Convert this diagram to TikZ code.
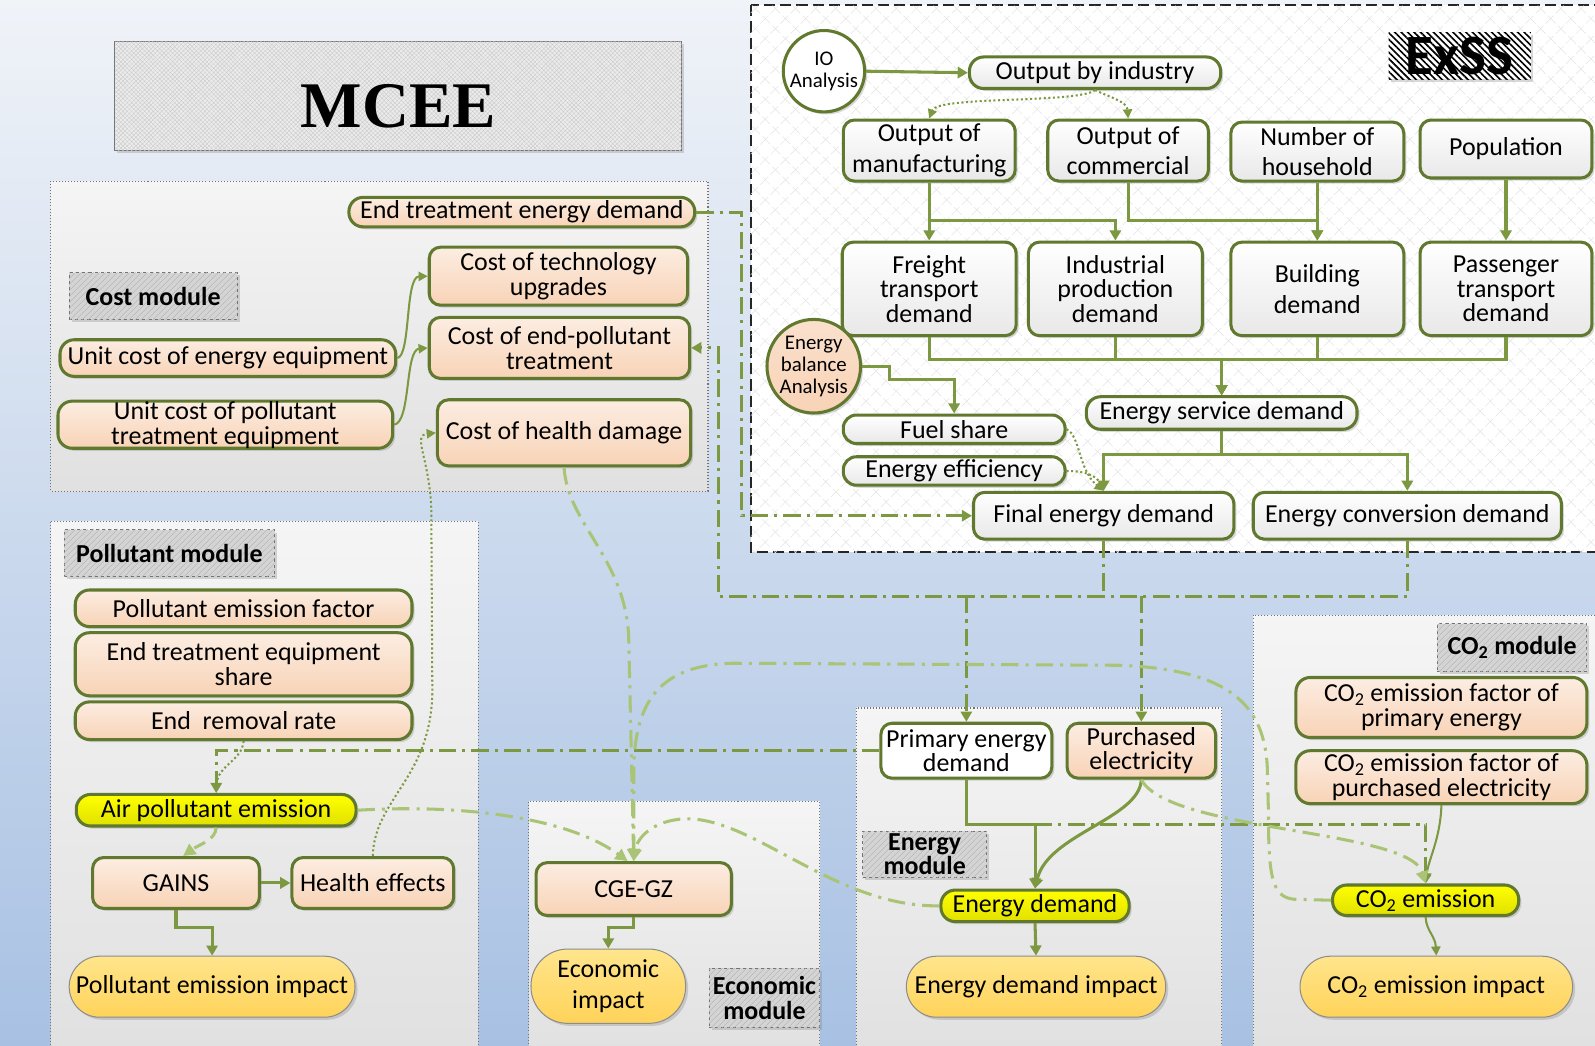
\documentclass[tikz,border=0pt]{standalone}
\usepackage{fontspec}
\setmainfont{Carlito}
\newfontfamily\titlefont{Liberation Serif}
\usetikzlibrary{arrows.meta,shadows,patterns.meta}
\definecolor{Olive}{RGB}{96,121,46}
\definecolor{Link}{RGB}{124,152,64}
\definecolor{LinkLight}{RGB}{170,196,118}
\definecolor{Peach10}{RGB}{252,237,226}
\definecolor{Peach30}{RGB}{248,211,182}
\definecolor{Gold10}{RGB}{255,229,140}
\definecolor{Gold30}{RGB}{255,211,90}
\definecolor{Sky10}{RGB}{240,243,248}
\definecolor{Sky40}{RGB}{168,193,227}
\newcommand\boxfont{\fontsize{25.5}{24}\selectfont}

\begin{document}
\begin{tikzpicture}[
    x=1pt, y=-1pt,
    sz/.style 2 args={minimum width=#1pt, minimum height=#2pt},
    shadowed/.style={drop shadow={shadow xshift=2.5pt, shadow yshift=-2.5pt, opacity=0.3}},
    node base/.style={draw=Olive, line width=3pt, rounded corners=11pt, align=center, inner sep=2pt, shadowed, font=\boxfont},
    peach box/.style={node base, top color=Peach10, bottom color=Peach30},
    grey box/.style={node base, top color=white, bottom color=black!9},
    yellow box/.style={node base, rounded corners=14pt, top color=yellow, bottom color=yellow!88!black},
    impact box/.style={draw=black!45, line width=1pt, align=center, inner sep=2pt, shadowed, font=\boxfont, top color=Gold10, bottom color=Gold30},
    analysis/.style={circle, draw=Olive, line width=3pt, align=center, inner sep=0pt, shadowed, font=\fontsize{20.5}{21.5}\selectfont},
    module tag/.style={draw=black!55, dashed, line width=1pt, fill=black!17, align=center, inner sep=1pt, shadowed,
        postaction={pattern={Lines[angle=45, distance=4pt, line width=0.4pt]}, pattern color=black!30},
        font=\bfseries\boxfont},
    module panel/.style={draw=black!55, dotted, line width=1pt, top color=black!4, bottom color=black!12},
    flow/.style={draw=Link, line width=3pt, -{Triangle[length=10pt, width=11pt]}},
    thin flow/.style={flow, line width=2pt, -{Triangle[length=9pt, width=9pt]}},
    dotted flow/.style={draw=Link, line width=2pt, dash pattern=on 2pt off 2.5pt, -{Triangle[length=9pt, width=9pt]}},
    exchange/.style={draw=Link, line width=3pt, dash pattern=on 17pt off 6pt on 3pt off 6pt, -{Triangle[length=10pt, width=11pt]}},
    soft exchange/.style={draw=LinkLight, line width=3pt, dash pattern=on 17pt off 7pt on 3pt off 7pt, -{Triangle[length=12pt, width=12pt]}},
    soft dash/.style={draw=LinkLight, line width=3pt, dash pattern=on 12pt off 7pt, -{Triangle[length=12pt, width=12pt]}},
    ]
    % background and module frames
    \useasboundingbox (0,0) rectangle (1568,1028);
    \clip (0,0) rectangle (1568,1028);
    \shade[top color=Sky10, bottom color=Sky40] (0,0) rectangle (1568,1028);

    \node[draw=black!55, line width=1pt, fill=black!8, shadowed, sz={557}{107}, text height=62pt,
        postaction={pattern={Hatch[angle=45, distance=3pt, line width=0.3pt]}, pattern color=black!22},
        font=\titlefont\bfseries\fontsize{64}{64}\selectfont] (mcee) at (391.5,94.5) {MCEE};

    \draw[module panel] (50,178) rectangle (696,483);
    \draw[module panel] (50,513) rectangle (470,1040);
    \draw[module panel] (520,788) rectangle (806,1040);
    \draw[module panel] (842,696) rectangle (1201,1040);
    \draw[module panel] (1232,605) rectangle (1580,1040);

    \draw[black!85, line width=2pt, dash pattern=on 11pt off 5pt, fill=white,
        postaction={pattern={Hatch[angle=45, distance=14pt, line width=0.5pt]}, pattern color=black!10}]
        (738,5) rectangle (1580,543);

    % ExSS
    \node[fill=white, sz={140}{46}, inner sep=0pt, shadowed,
        postaction={pattern={Lines[angle=-45, distance=4.5pt, line width=1.6pt]}, pattern color=black},
        font=\bfseries\fontsize{56}{56}\selectfont] (exss) at (1435,55) {ExSS};
    \node[analysis, fill=white, minimum size=80pt] (io) at (810,70) {IO\\Analysis};
    \node[grey box, rounded corners=14pt, sz={247}{31}] (obi) at (1076.5,71.5) {Output by industry};
    \node[grey box, sz={169}{60}, font=\fontsize{25.5}{30}\selectfont] (om) at (913.5,148) {Output of\\manufacturing};
    \node[grey box, sz={158}{60}, font=\fontsize{25.5}{30}\selectfont] (oc) at (1109,148) {Output of\\commercial};
    \node[grey box, sz={170}{58}, font=\fontsize{25.5}{30}\selectfont] (nh) at (1295,149) {Number of\\household};
    \node[grey box, sz={169}{57}] (pop) at (1480.5,146.5) {Population};
    \node[grey box, sz={171}{92}] (ftd) at (913.5,284) {Freight\\transport\\demand};
    \node[grey box, sz={171}{92}] (ipd) at (1096.5,284) {Industrial\\production\\demand};
    \node[grey box, sz={170}{92}, font=\fontsize{25.5}{30}\selectfont] (bd) at (1295,284) {Building\\demand};
    \node[grey box, sz={169}{92}] (ptd) at (1480.5,284) {Passenger\\transport\\demand};
    \node[analysis, top color=Peach10!50!Peach30, bottom color=Peach30, minimum size=92pt] (eba) at (800,360) {Energy\\balance\\Analysis};
    \node[grey box, rounded corners=13pt, sz={218}{28}] (fs) at (938,422) {Fuel share};
    \node[grey box, rounded corners=13pt, sz={218}{28}] (ee) at (938,463) {Energy efficiency};
    \node[grey box, rounded corners=14pt, sz={266}{32}] (esd) at (1201,406) {Energy service demand};
    \node[grey box, sz={256}{46}] (fed) at (1085,507) {Final energy demand};
    \node[grey box, sz={303}{46}] (ecd) at (1383.5,507) {Energy conversion demand};

    % Cost module
    \node[peach box, rounded corners=14pt, sz={340}{29}] (etd) at (513,208.5) {End treatment energy demand};
    \node[module tag, sz={165}{46}] (costtag) at (150.5,291) {Cost module};
    \node[peach box, sz={254}{57}] (ctu) at (549,271.5) {Cost of technology\\upgrades};
    \node[peach box, rounded corners=14pt, sz={330}{36}] (ucee) at (224,352) {Unit cost of energy equipment};
    \node[peach box, sz={256}{60}] (cept) at (550,342) {Cost of end-pollutant\\treatment};
    \node[peach box, rounded corners=14pt, inner ysep=0pt, sz={329}{45}, font=\fontsize{25.5}{24.5}\selectfont] (ucpt) at (221.5,417.5) {Unit cost of pollutant\\treatment equipment};
    \node[peach box, sz={249}{65}] (chd) at (554.5,425.5) {Cost of health damage};

    % Pollutant module
    \node[module tag, sz={207}{46}] (poltag) at (166.5,544) {Pollutant module};
    \node[peach box, rounded corners=14pt, sz={331}{36}] (pef) at (239.5,598) {Pollutant emission factor};
    \node[peach box, rounded corners=14pt, sz={331}{62}] (eteq) at (239.5,653) {End treatment equipment\\share};
    \node[peach box, rounded corners=14pt, sz={331}{37}] (err) at (239.5,708.5) {End\ \ removal rate};
    \node[yellow box, sz={275}{31}] (ape) at (212.5,796.5) {Air pollutant emission};
    \node[peach box, sz={164}{50}] (gains) at (173,868) {GAINS};
    \node[peach box, sz={159}{50}] (he) at (366.5,868) {Health effects};
    \node[impact box, rounded corners=30pt, sz={281}{60}] (pei) at (208.5,970) {Pollutant emission impact};

    % Economic module
    \node[peach box, sz={192}{52}] (cge) at (623,874) {CGE-GZ};
    \node[impact box, rounded corners=36pt, sz={152}{73}, font=\fontsize{25.5}{30}\selectfont] (eci) at (598,969.5) {Economic\\impact};
    \node[module tag, sz={109}{58}] (ecotag) at (751.5,981) {Economic\\module};

    % Energy module
    \node[node base, fill=white, sz={168}{54}] (ped) at (950,738) {Primary energy\\demand};
    \node[peach box, sz={146}{54}] (pel) at (1122,738) {Purchased\\electricity};
    \node[module tag, sz={122}{46}] (entag) at (909,840) {Energy\\module};
    \node[yellow box, sz={185}{31}] (ed) at (1017.5,890.5) {Energy demand};
    \node[impact box, rounded corners=30pt, sz={255}{60}] (edi) at (1018.5,970) {Energy demand impact};

    % CO2 module
    \node[module tag, sz={147}{47}] (co2tag) at (1486.5,636.5) {CO\textsubscript{2} module};
    \node[peach box, rounded corners=14pt, sz={286}{59}] (cfp) at (1417,695.5) {CO\textsubscript{2} emission factor of\\primary energy};
    \node[peach box, rounded corners=14pt, inner ysep=0pt, sz={286}{52}, font=\fontsize{25.5}{25}\selectfont] (cfe) at (1417,764) {CO\textsubscript{2} emission factor of\\purchased electricity};
    \node[yellow box, sz={183}{30}] (co2e) at (1401.5,885) {CO\textsubscript{2} emission};
    \node[impact box, rounded corners=30pt, sz={268}{60}] (co2i) at (1412,970) {CO\textsubscript{2} emission impact};

    % ExSS flows
    \draw[flow] (io.east) -- (obi.west);
    \draw[dotted flow] (obi.south) .. controls (1060,102) and (922,94) .. (om.north);
    \draw[dotted flow] (obi.south) .. controls (1092,96) and (1108,100) .. (oc.north);
    \draw[flow] (om.south) -- (ftd.north);
    \draw[flow] (om.south) -- ++(0,37) -| (ipd.north);
    \draw[flow] (nh.south) -- (bd.north);
    \draw[flow] (oc.south) -- ++(0,37) -| (bd.north);
    \draw[flow] (pop.south) -- (ptd.north);
    \foreach \n in {ftd, ipd, bd, ptd}
        \draw[flow] (\n.south) -- ++(0,22) -| (esd.north);
    \draw[flow] (eba.east) -- ++(27,0) -- ++(0,13) -| (fs.north);
    \foreach \n in {fed, ecd}
        \draw[flow] (esd.south) -- ++(0,23) -| (\n.north);
    \draw[dotted flow] (fs.east) .. controls (1062,428) and (1060,462) .. (fed.north);
    \draw[dotted flow] (ee.east) .. controls (1068,463) and (1078,468) .. (fed.north);

    % cost flows
    \draw[thin flow] (ucee.east) .. controls (404,350) and (398,272) .. (ctu.west);
    \draw[thin flow] (ucpt.east) .. controls (404,415) and (398,344) .. (cept.west);
    \draw[dotted flow] (he.north) .. controls (368,785) and (424,765) .. (425,680) -- (424,500)
        .. controls (422,450) and (405,428) .. (chd.west);

    % pollutant, economic and energy flows
    \draw[dotted flow] (err.south) .. controls (238,748) and (214,752) .. (ape.north);
    \draw[soft dash] (ape.south) .. controls (212,826) and (196,830) .. ([xshift=7pt]gains.north);
    \draw[flow] (gains.east) -- (he.west);
    \draw[flow] (gains.south) -- ++(0,17) -| (pei.north);
    \draw[flow] (cge.south) -- ++(0,10) -| (eci.north);
    \draw[flow] (ped.south) -- ++(0,44) coordinate (pej) -| (ed.north);
    \draw[flow] (pel.south) .. controls (1120,805) and (1030,820) .. (ed.north);
    \draw[flow] (ed.south) -- (edi.north);
    \draw[thin flow] (cfe.south) .. controls (1416,825) and (1404,845) .. (co2e.north);
    \draw[thin flow] (co2e.south) .. controls (1402,915) and (1411,920) .. (co2i.north);

    % links between modules
    \coordinate (etdc) at (729,507);
    \coordinate (bus) at (706,586);
    \draw[exchange] (etd.east) -| (etdc) -- (fed.west);
    \draw[exchange] (ecd.south) |- (bus) |- (cept.east);
    \draw[exchange, -] (fed.south) -- (fed.south |- bus);
    \draw[exchange] (ped.north |- bus) -- (ped.north);
    \draw[exchange] (pel.north |- bus) -- (pel.north);
    \draw[exchange] (ped.west) -| (ape.north);
    \draw[exchange] (pej -| ed.north) -| (co2e.north);

    \draw[soft exchange] (chd.south) .. controls (558,515) and (614,548) .. (618,625) -- (cge.north);
    \draw[soft exchange] (ape.east) .. controls (460,790) and (560,805) .. ([xshift=-6pt]cge.north);
    \draw[soft exchange] (ed.west) .. controls (820,892) and (740,802) .. (672,805)
        .. controls (640,807) and (626,825) .. (cge.north);
    \draw[soft exchange] (co2e.west) -- (1272,884) .. controls (1250,882) and (1247,860) .. (1247,800)
        -- (1246,760) .. controls (1245,690) and (1205,658) .. (1100,654) -- (720,652)
        .. controls (648,654) and (623,690) .. (623,760) -- (cge.north);
    \draw[soft exchange] (pel.south) .. controls (1150,818) and (1385,815) .. (co2e.north);
\end{tikzpicture}
\end{document}
